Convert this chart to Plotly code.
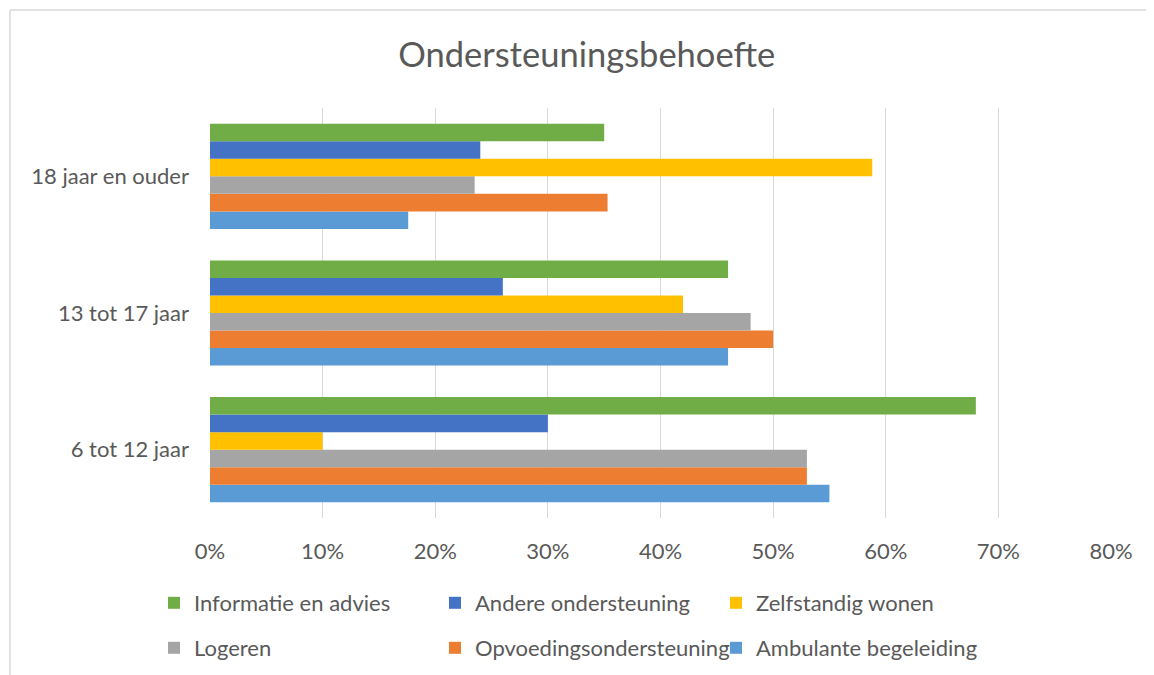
import plotly.graph_objects as go

categories = ["6 tot 12 jaar", "13 tot 17 jaar", "18 jaar en ouder"]

# values in %, per category (bottom to top)
ambulante = [55, 46, 17.6]
opvoeding = [53, 50, 35.3]
logeren = [53, 48, 23.5]
zelfstandig = [10, 42, 58.8]
andere = [30, 26, 24]
informatie = [68, 46, 35]

tick_vals = [0, 10, 20, 30, 40, 50, 60, 70, 80]
tick_text = ["0%", "10%", "20%", "30%", "40%", "50%", "60%", "70%", "80%"]

TEXT = "#595959"
FONT = "Lato, Arial, sans-serif"

series = [
    ("Ambulante begeleiding", ambulante, "#5B9BD5", "legend2"),
    ("Opvoedingsondersteuning", opvoeding, "#ED7D31", "legend2"),
    ("Logeren", logeren, "#A5A5A5", "legend2"),
    ("Zelfstandig wonen", zelfstandig, "#FFC000", "legend"),
    ("Andere ondersteuning", andere, "#4472C4", "legend"),
    ("Informatie en advies", informatie, "#70AD47", "legend"),
]

fig = go.Figure()
for name, vals, color, leg in series:
    fig.add_trace(
        go.Bar(
            y=categories,
            x=vals,
            name=name,
            orientation="h",
            marker=dict(color=color, line=dict(width=0)),
            legend=leg,
        )
    )

legend_common = dict(
    orientation="h",
    traceorder="reversed",
    font=dict(family=FONT, size=22, color=TEXT),
    entrywidth=236,
    entrywidthmode="pixels",
    xref="container",
    yref="container",
    xanchor="left",
    yanchor="middle",
    x=0.1274,
    bgcolor="rgba(0,0,0,0)",
)

# page body has an 8px margin, so the figure is 8px smaller than the window
fig.update_layout(
    width=1146,
    height=667,
    margin=dict(l=202, r=43, t=100, b=157, autoexpand=False),
    paper_bgcolor="white",
    plot_bgcolor="white",
    font=dict(family=FONT, color=TEXT, size=22),
    barmode="group",
    bargap=0.23,
    bargroupgap=0,
    title=dict(
        text="Ondersteuningsbehoefte",
        x=0.505,
        xanchor="center",
        y=1 - 47 / 667,
        yanchor="middle",
        font=dict(family=FONT, size=34.5, color=TEXT),
    ),
    legend=dict(legend_common, y=1 - 595 / 667),
    legend2=dict(legend_common, y=1 - 640 / 667),
    shapes=[
        dict(type="line", xref="paper", yref="paper", x0=-0.222, x1=1.06, y0=1.239, y1=1.239,
             line=dict(color="#D9D9D9", width=1.5)),
        dict(type="line", xref="paper", yref="paper", x0=-0.222, x1=-0.222, y0=1.239, y1=-0.4,
             line=dict(color="#D9D9D9", width=1.5)),
    ],
)

fig.update_xaxes(
    range=[0, 80],
    tickvals=tick_vals,
    ticktext=tick_text,
    showgrid=True,
    gridcolor="#D9D9D9",
    gridwidth=1,
    zeroline=False,
    showline=False,
    ticks="",
    ticklabelstandoff=18,
    tickfont=dict(family=FONT, size=22, color=TEXT),
)
fig.update_yaxes(
    showgrid=False,
    zeroline=False,
    showline=False,
    ticks="",
    ticklabelstandoff=20,
    tickfont=dict(family=FONT, size=22, color=TEXT),
)

fig.write_html("out.html")
